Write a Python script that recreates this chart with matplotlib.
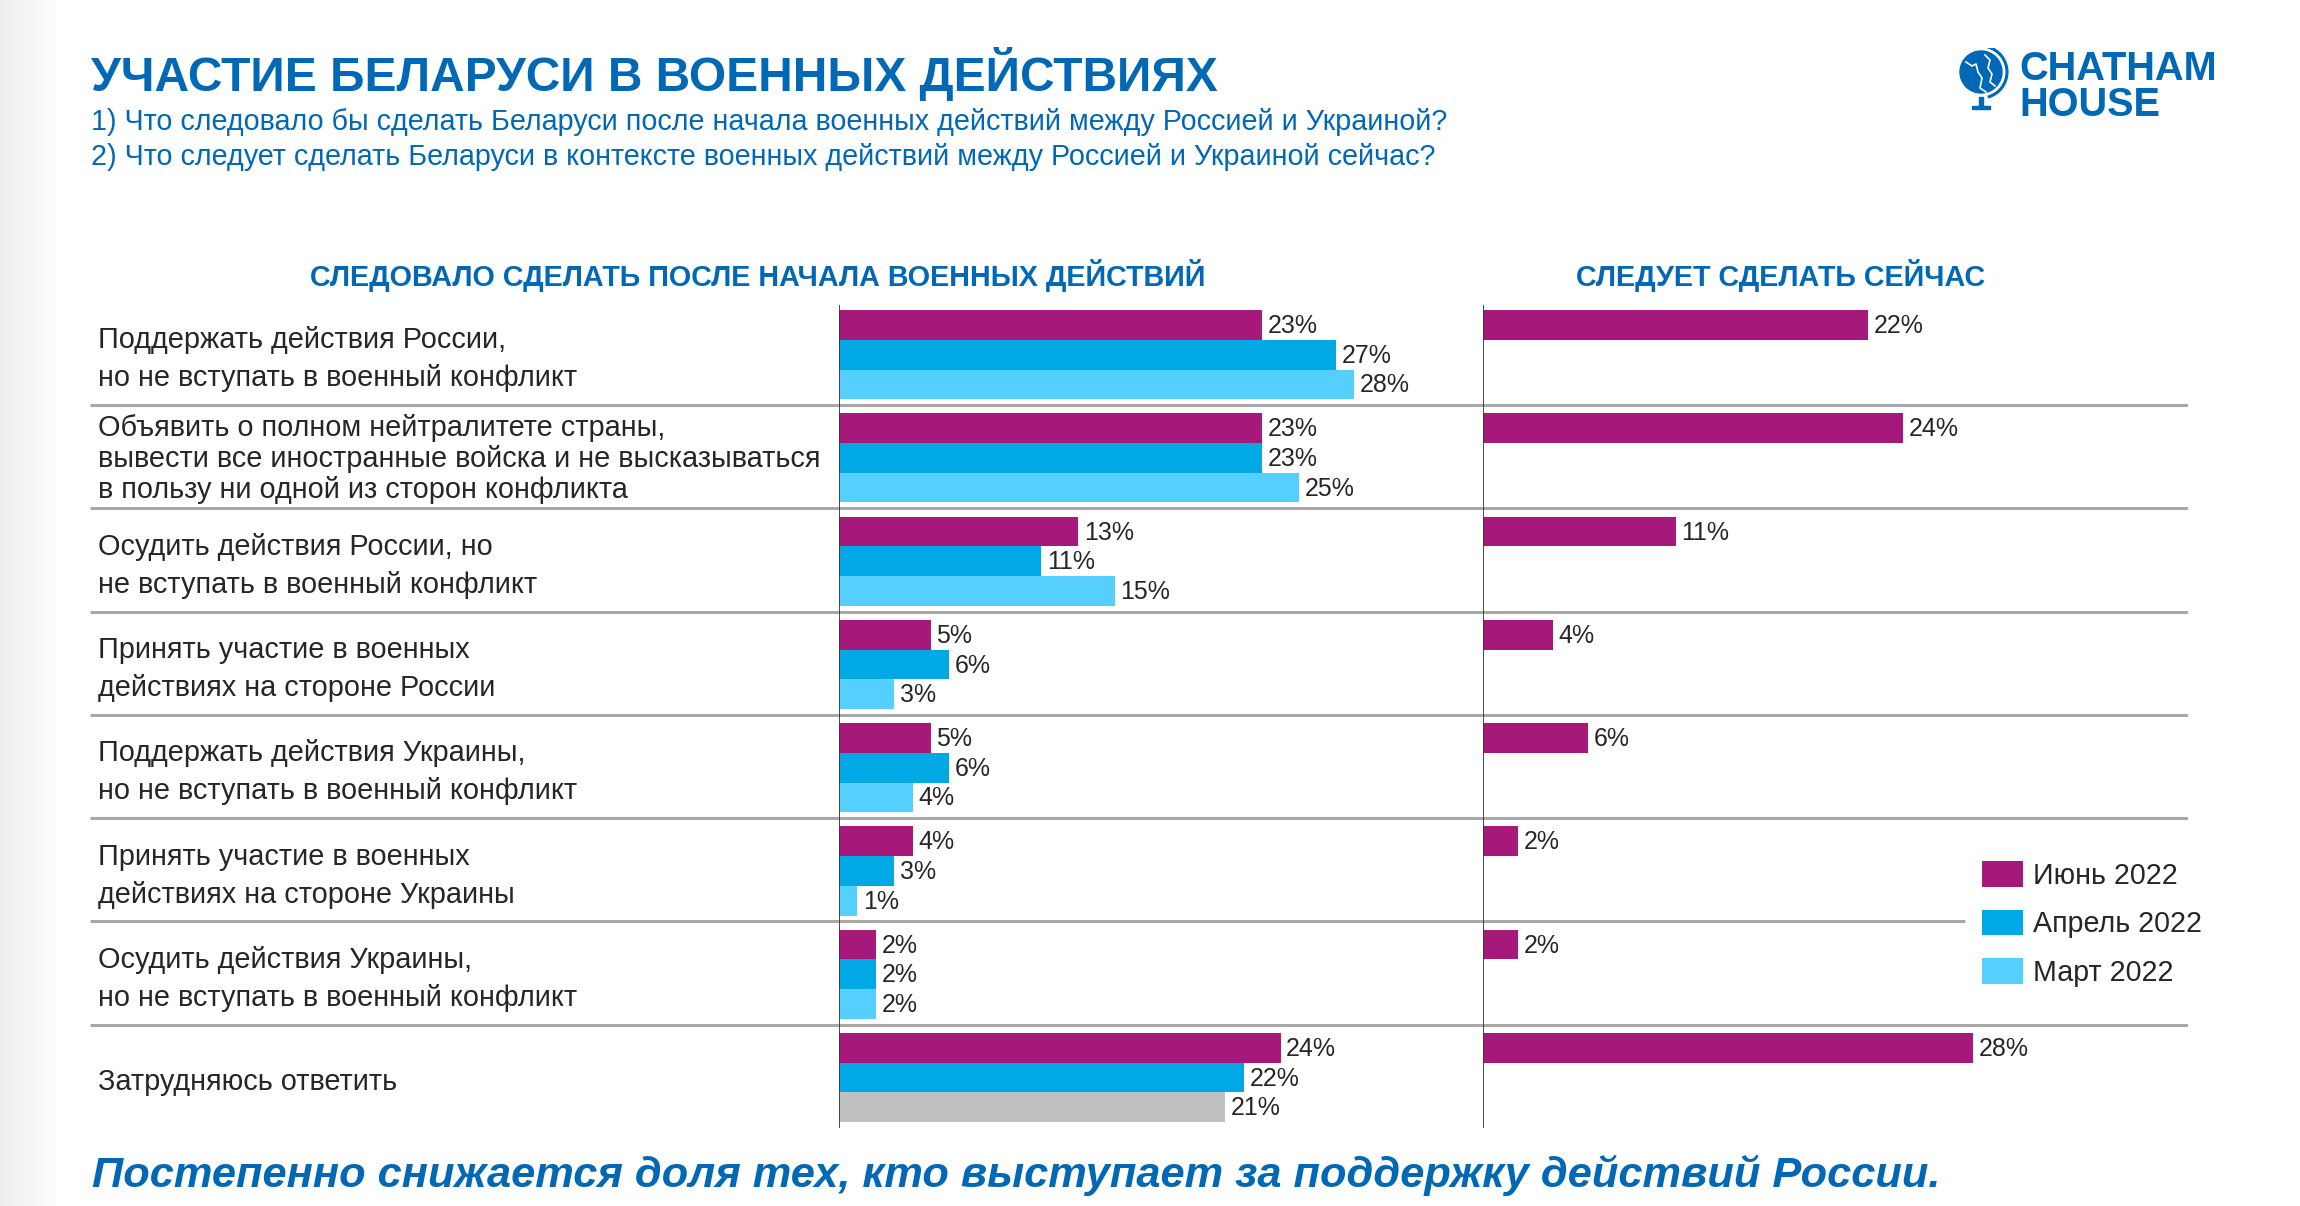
import numpy as np
import matplotlib
matplotlib.use('Agg')
import matplotlib.pyplot as plt
from matplotlib.patches import Patch, Circle, Arc, Rectangle

plt.rcParams['font.family'] = ['Liberation Sans', 'DejaVu Sans']

# data
labels = [
    'Поддержать действия России,\nно не вступать в военный конфликт',
    'Объявить о полном нейтралитете страны,\nвывести все иностранные войска и не высказываться\nв пользу ни одной из сторон конфликта',
    'Осудить действия России, но\nне вступать в военный конфликт',
    'Принять участие в военных\nдействиях на стороне России',
    'Поддержать действия Украины,\nно не вступать в военный конфликт',
    'Принять участие в военных\nдействиях на стороне Украины',
    'Осудить действия Украины,\nно не вступать в военный конфликт',
    'Затрудняюсь ответить',
]
june = [23, 23, 13, 5, 5, 4, 2, 24]
april = [27, 23, 11, 6, 6, 3, 2, 22]
march = [28, 25, 15, 3, 4, 1, 2, 21]
now_june = [22, 24, 11, 4, 6, 2, 2, 28]
series_names = ['Июнь 2022', 'Апрель 2022', 'Март 2022']

# styles
MAGENTA = '#A6197A'
BLUE = '#00A9E4'
LIGHT = '#55D0FE'
GREY_BAR = '#BFBFBF'
TITLE_BLUE = '#0068B4'
TXT = '#262626'
SEP = '#A8A8A8'

W, H = 2300, 1206
fig = plt.figure(figsize=(W / 100, H / 100), dpi=100)
fig.patch.set_facecolor('white')


def fx(px):
    return px / W


def fy(py):
    return 1 - py / H


# faint shadow on the left edge
ax_sh = fig.add_axes([0, 0, fx(60), 1])
grad = np.linspace(0.935, 1.0, 60)[None, :]
ax_sh.imshow(np.dstack([grad, grad, grad]), aspect='auto', extent=(0, 1, 0, 1))
ax_sh.axis('off')

# panel geometry (pixels)
top, bottom = 305, 1128
ylim = (7.92, -0.05)
bar_h = 0.2875
n = len(labels)
idx = np.arange(n)

# frame axes for separators and row labels
ax_f = fig.add_axes([fx(90), fy(bottom), fx(2188 - 90), (bottom - top) / H])
ax_f.set_xlim(90, 2188)
ax_f.set_ylim(*ylim)
ax_f.axis('off')
for i in range(n - 1):
    xend = 1965 if i == 5 else 2188
    ax_f.hlines(i + 0.92, 90, xend, color=SEP, lw=2.2, zorder=1)
for i, lab in enumerate(labels):
    nl = lab.count('\n') + 1
    ls = 1.46 if nl == 2 else 1.13
    dy = 0.01 if nl == 3 else 0.045
    ax_f.text(98, i + 1.5 * bar_h + dy, lab, ha='left', va='center', fontsize=20.8,
              color=TXT, linespacing=ls)

# left panel
ax_l = fig.add_axes([fx(839), fy(bottom), fx(1480 - 839), (bottom - top) / H])
ax_l.set_xlim(0, (1480 - 839) / 18.4)
ax_l.set_ylim(*ylim)
march_colors = [LIGHT] * (n - 1) + [GREY_BAR]
for j, (vals, col) in enumerate([(june, MAGENTA), (april, BLUE), (march, march_colors)]):
    ys = idx + bar_h * (j + 0.5)
    ax_l.barh(ys, vals, height=bar_h, color=col, zorder=2)
    for y, v in zip(ys, vals):
        ax_l.text(v + 0.3, y + 0.01, f'{v}%', ha='left', va='center', fontsize=18, color=TXT)

# right panel
ax_r = fig.add_axes([fx(1483), fy(bottom), fx(2188 - 1483), (bottom - top) / H])
ax_r.set_xlim(0, (2188 - 1483) / 17.5)
ax_r.set_ylim(*ylim)
ys = idx + bar_h * 0.5
ax_r.barh(ys, now_june, height=bar_h, color=MAGENTA, zorder=2)
for y, v in zip(ys, now_june):
    ax_r.text(v + 0.33, y + 0.01, f'{v}%', ha='left', va='center', fontsize=18, color=TXT)

for ax in (ax_l, ax_r):
    ax.patch.set_alpha(0)
    for s in ax.spines.values():
        s.set_visible(False)
    ax.axvline(0, color='#3A3A3A', lw=1.3, zorder=3)
    ax.set_xticks([])
    ax.set_yticks([])

# legend
handles = [Patch(facecolor=c) for c in (MAGENTA, BLUE, LIGHT)]
fig.legend(handles, series_names, loc='upper left', bbox_to_anchor=(fx(1982), fy(861)),
           frameon=False, fontsize=20.6, handlelength=1.43, handleheight=1.0,
           handletextpad=0.35, labelspacing=0.7, borderpad=0, borderaxespad=0,
           labelcolor=TXT)

# titles
fig.text(fx(91), fy(91), 'УЧАСТИЕ БЕЛАРУСИ В ВОЕННЫХ ДЕЙСТВИЯХ', fontsize=34.5,
         fontweight='bold', color=TITLE_BLUE, va='baseline')
fig.text(fx(91), fy(130), '1) Что следовало бы сделать Беларуси после начала военных действий между Россией и Украиной?',
         fontsize=20.7, color=TITLE_BLUE, va='baseline')
fig.text(fx(91), fy(165), '2) Что следует сделать Беларуси в контексте военных действий между Россией и Украиной сейчас?',
         fontsize=20.7, color=TITLE_BLUE, va='baseline')
fig.text(fx(758), fy(286), 'СЛЕДОВАЛО СДЕЛАТЬ ПОСЛЕ НАЧАЛА ВОЕННЫХ ДЕЙСТВИЙ', fontsize=20.7,
         fontweight='bold', color=TITLE_BLUE, va='baseline', ha='center')
fig.text(fx(1781), fy(286), 'СЛЕДУЕТ СДЕЛАТЬ СЕЙЧАС', fontsize=20.7,
         fontweight='bold', color=TITLE_BLUE, va='baseline', ha='center')
fig.text(fx(92), fy(1187), 'Постепенно снижается доля тех, кто выступает за поддержку действий России.',
         fontsize=31.2, fontweight='bold', fontstyle='italic', color=TITLE_BLUE, va='baseline')

# logo
fig.text(fx(2019), fy(80), 'CHATHAM', fontsize=28.6, fontweight='bold', color=TITLE_BLUE, va='baseline')
fig.text(fx(2019), fy(116), 'HOUSE', fontsize=28.6, fontweight='bold', color=TITLE_BLUE, va='baseline')
ax_g = fig.add_axes([fx(1955), fy(120), fx(60), 72 / H])
ax_g.set_xlim(1955, 2015)
ax_g.set_ylim(120, 48)
ax_g.axis('off')
ax_g.add_patch(Circle((1981, 72), 21, color=TITLE_BLUE))
ax_g.add_patch(Arc((1981, 72), 52, 52, theta1=-75, theta2=75, color=TITLE_BLUE, lw=2.2))
ax_g.add_patch(Rectangle((1979, 97), 4, 11, color=TITLE_BLUE))
ax_g.add_patch(Rectangle((1972, 106), 18, 3, color=TITLE_BLUE))
ax_g.plot([1966, 1972, 1976, 1978, 1982, 1980, 1986], [62, 66, 64, 72, 78, 88, 92], color='white', lw=1.2)
ax_g.plot([1985, 1990, 1988, 1992, 1990, 1995], [55, 60, 68, 74, 82, 86], color='white', lw=1.2)

fig.savefig('out.png', dpi=100)
